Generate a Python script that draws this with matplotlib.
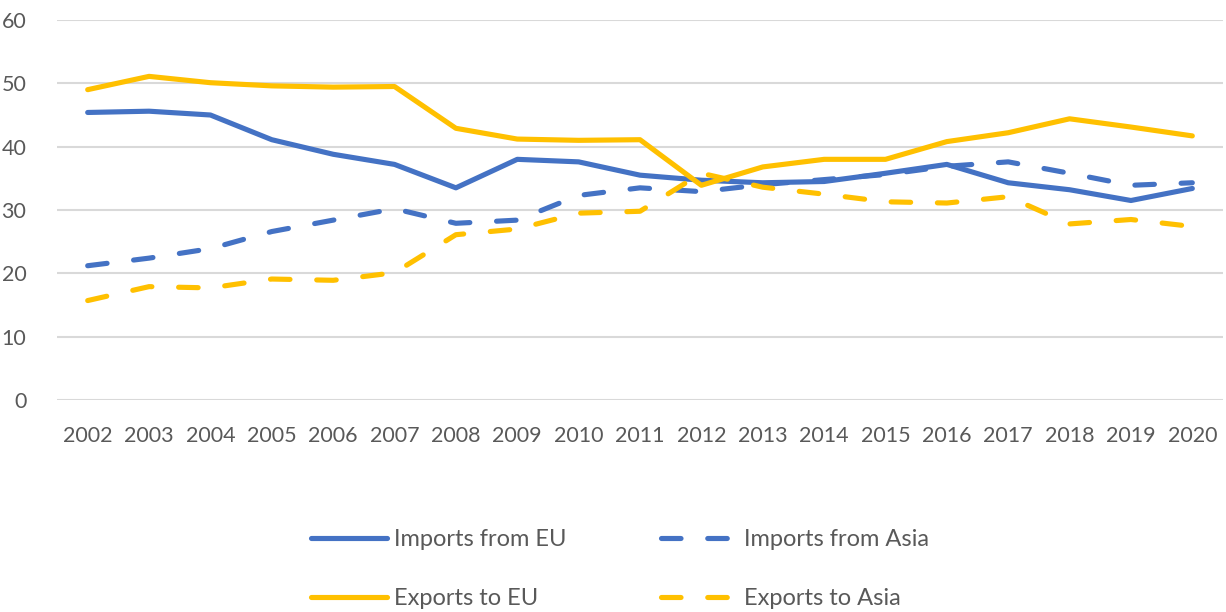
import matplotlib
matplotlib.use("Agg")
import matplotlib.pyplot as plt

years = ["2002", "2003", "2004", "2005", "2006", "2007", "2008", "2009", "2010", "2011",
         "2012", "2013", "2014", "2015", "2016", "2017", "2018", "2019", "2020"]

imports_eu = [45.4, 45.6, 45.0, 41.1, 38.8, 37.2, 33.5, 38.0, 37.6, 35.5,
              34.7, 34.3, 34.5, 35.8, 37.2, 34.3, 33.2, 31.5, 33.4]
imports_asia = [21.2, 22.4, 23.9, 26.6, 28.4, 30.2, 27.9, 28.4, 32.3, 33.5,
                32.9, 34.0, 34.8, 35.6, 36.9, 37.6, 35.8, 33.9, 34.3]
exports_eu = [49.0, 51.1, 50.1, 49.6, 49.4, 49.5, 42.9, 41.2, 41.0, 41.1,
              33.9, 36.8, 38.0, 38.0, 40.8, 42.2, 44.4, 43.1, 41.7]
exports_asia = [15.7, 17.9, 17.7, 19.1, 18.9, 20.1, 26.1, 27.0, 29.5, 29.8,
                35.8, 33.6, 32.5, 31.3, 31.1, 32.1, 27.8, 28.5, 27.4]

yticks = [0, 10, 20, 30, 40, 50, 60]

BLUE = "#4472C4"
GOLD = "#FFC000"
TEXT = "#595959"
GRID = "#D9D9D9"

plt.rcParams["font.family"] = ["Lato", "DejaVu Sans"]

fig = plt.figure(figsize=(12.26, 6.12), dpi=100)
ax = fig.add_axes([57 / 1226, 1 - 400 / 612, (1223 - 57) / 1226, 380 / 612])

x = list(range(len(years)))
lw = 3.7
dash = (3.8, 5.2)

ax.plot(x, imports_eu, color=BLUE, lw=lw, solid_capstyle="round",
        solid_joinstyle="round", label="Imports from EU", zorder=3)
ax.plot(x, imports_asia, color=BLUE, lw=lw, dashes=dash, dash_capstyle="round",
        dash_joinstyle="round", label="Imports from Asia", zorder=3)
ax.plot(x, exports_eu, color=GOLD, lw=lw, solid_capstyle="round",
        solid_joinstyle="round", label="Exports to EU", zorder=3)
ax.plot(x, exports_asia, color=GOLD, lw=lw, dashes=dash, dash_capstyle="round",
        dash_joinstyle="round", label="Exports to Asia", zorder=3)

ax.set_xlim(-0.5, len(years) - 0.5)
ax.set_ylim(0, 60)
ax.set_yticks(yticks)
ax.set_xticks(x)
ax.set_xticklabels(years)
ax.yaxis.grid(True, color=GRID, lw=1.5)
ax.set_axisbelow(True)
for s in ax.spines.values():
    s.set_visible(False)
ax.tick_params(axis="both", length=0, labelsize=15.5, labelcolor=TEXT)
ax.tick_params(axis="y", pad=22)
ax.tick_params(axis="x", pad=19)

# legend order: row 1 imports, row 2 exports
h, l = ax.get_legend_handles_labels()
order = [0, 2, 1, 3]
leg = fig.legend([h[i] for i in order], [l[i] for i in order], ncol=2,
                 loc="center", bbox_to_anchor=(620 / 1226, 1 - 569 / 612),
                 frameon=False, fontsize=17, handlelength=3.2, handletextpad=0.3,
                 columnspacing=4.0, labelspacing=1.6)
for t in leg.get_texts():
    t.set_color(TEXT)

fig.savefig("out.png", dpi=100)
